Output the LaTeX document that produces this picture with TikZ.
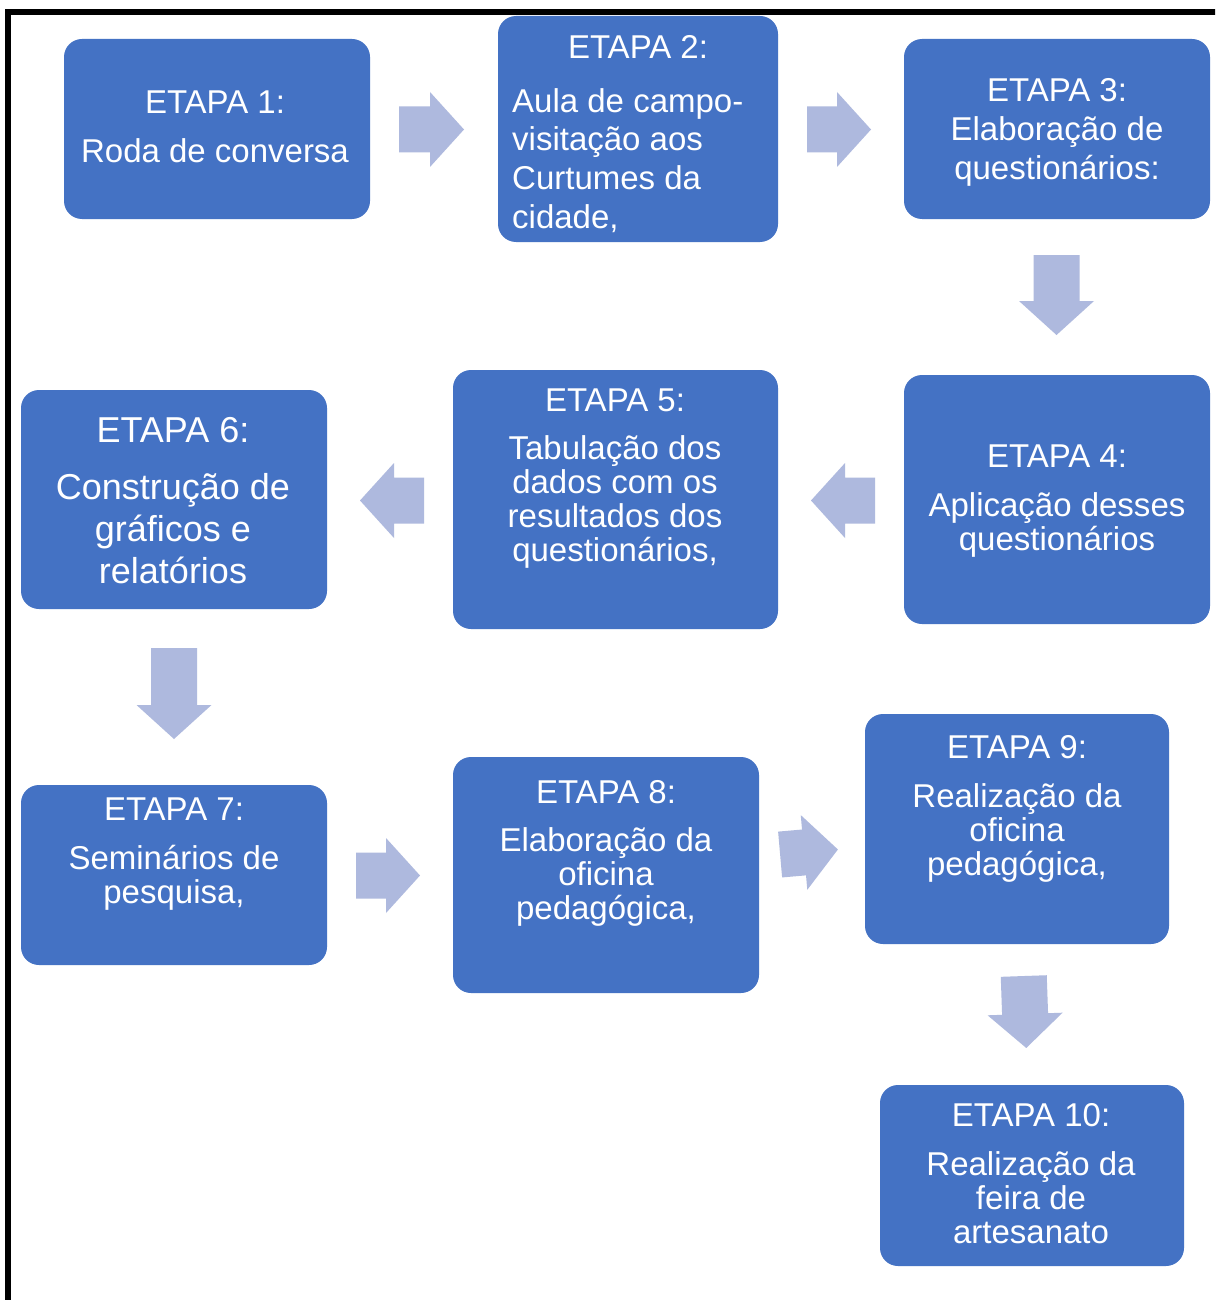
\documentclass[tikz,border=0pt]{standalone}
\usepackage{fontspec}
\setmainfont{Liberation Sans}
\definecolor{boxblue}{HTML}{4472C4}
\definecolor{arrowc}{HTML}{AEB9DE}
\newcommand\blockarr[5]{%
  \begin{scope}[shift={(#1,#2)},rotate=#3]
    \coordinate (#5) at (0,0);
    \fill[arrowc] ({-#4/2},-23) -- ({#4/2-34},-23) -- ({#4/2-34},-37.5) -- ({#4/2},0)
      -- ({#4/2-34},37.5) -- ({#4/2-34},23) -- ({-#4/2},23) -- cycle;
  \end{scope}}
\tikzset{
  box/.style={fill=boxblue, rounded corners=18pt, inner sep=0pt},
  txt/.style={text=white, inner sep=0pt, align=center, anchor=north, font=\fontsize{33}{34}\selectfont},
}
\begin{document}
\begin{tikzpicture}[x=1pt,y=-1pt]
\useasboundingbox (0,0) rectangle (1215,1300);
\begin{scope}
\clip (0,0) rectangle (1215,1300);
\fill[white] (0,0) rectangle (1215,1300);
\draw[line width=5.5pt] (8,12) rectangle (1260,1340);
\end{scope}
% boxes
\node[box, minimum width=306pt, minimum height=180pt] (b1) at (217,129) {};
\node[box, minimum width=280pt, minimum height=226pt] (b2) at (638,129) {};
\node[box, minimum width=306pt, minimum height=180pt] (b3) at (1057,129) {};
\node[box, minimum width=306pt, minimum height=249pt] (b4) at (1057,499.5) {};
\node[box, minimum width=325pt, minimum height=259pt] (b5) at (615.5,499.5) {};
\node[box, minimum width=306pt, minimum height=219pt] (b6) at (174,499.5) {};
\node[box, minimum width=306pt, minimum height=180pt] (b7) at (174,875) {};
\node[box, minimum width=306pt, minimum height=236pt] (b8) at (606,875) {};
\node[box, minimum width=304pt, minimum height=230pt] (b9) at (1017,829) {};
\node[box, minimum width=304pt, minimum height=181pt] (b10) at (1032,1175.5) {};
% texts
\node[txt, font=\fontsize{33}{49}\selectfont] (t1) at (215,91) {ETAPA 1:\\Roda de conversa};
\node[txt] (t2a) at (638,35) {ETAPA 2:};
\node[txt, anchor=north west, align=left, font=\fontsize{33}{38.7}\selectfont] (t2b) at (512,88) {Aula de campo-\\visitação aos\\Curtumes da\\cidade,};
\node[txt, font=\fontsize{33}{39}\selectfont] (t3) at (1057,78) {ETAPA 3:\\Elaboração de\\questionários:};
\node[txt] (t4) at (1057,445) {ETAPA 4:\\[15pt]Aplicação desses\\questionários};
\node[txt] (t5) at (615,389) {ETAPA 5:\\[14pt]Tabulação dos\\dados com os\\resultados dos\\questionários,};
\node[txt, font=\fontsize{36}{42}\selectfont] (t6) at (173,417) {ETAPA 6:\\[15pt]Construção de\\gráficos e\\relatórios};
\node[txt] (t7) at (174,798) {ETAPA 7:\\[15pt]Seminários de\\pesquisa,};
\node[txt] (t8) at (606,780) {ETAPA 8:\\[14pt]Elaboração da\\oficina\\pedagógica,};
\node[txt] (t9) at (1017,735) {ETAPA 9:\\[15pt]Realização da\\oficina\\pedagógica,};
\node[txt] (t10) at (1031,1103) {ETAPA 10:\\[15pt]Realização da\\feira de\\artesanato};
% block arrows
\blockarr{431.5}{129.5}{0}{65}{a1}
\blockarr{839}{129.5}{0}{64}{a2}
\blockarr{1056.5}{295}{-90}{80}{a3}
\blockarr{843}{500.5}{180}{64}{a4}
\blockarr{392}{500.5}{180}{64}{a5}
\blockarr{174}{693.5}{-90}{91}{a6}
\blockarr{388}{875.5}{0}{64}{a7}
\blockarr{809}{852}{5}{58}{a8}
\blockarr{1025}{1012}{-88}{72}{a9}
\end{tikzpicture}
\end{document}
